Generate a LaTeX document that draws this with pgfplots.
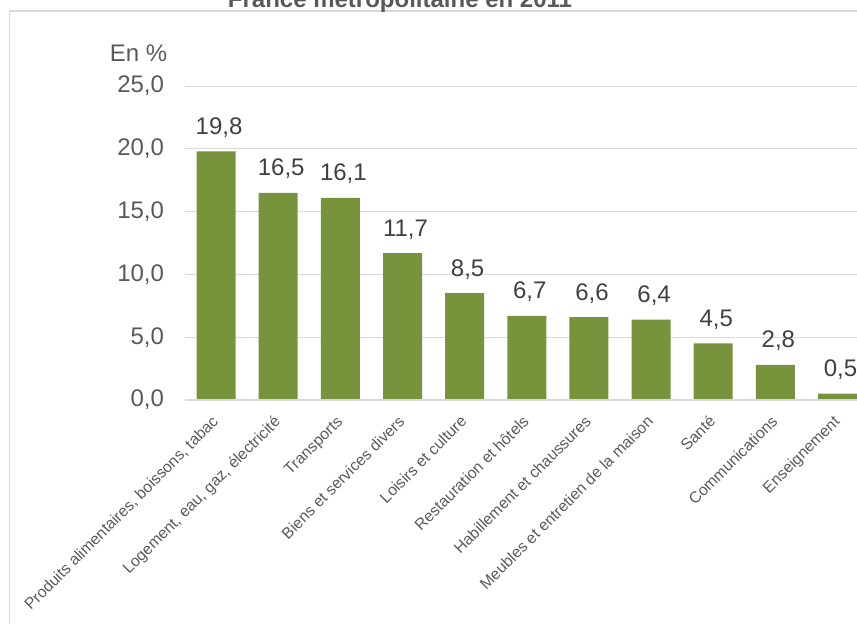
\documentclass[border=0pt]{standalone}
\usepackage{fontspec}
\setmainfont{Liberation Sans}
\usepackage{pgfplots}
\pgfplotsset{compat=1.18}
\definecolor{bargreen}{RGB}{119,147,60}
\definecolor{gridgray}{RGB}{217,217,217}
\definecolor{labgray}{RGB}{89,89,89}
\definecolor{valgray}{RGB}{64,64,64}
% 1 px of the reference = 0.5pt
\begin{document}
\begin{tikzpicture}
\useasboundingbox (0,0) rectangle (428.5pt,311.5pt);
\clip (0,0) rectangle (428.5pt,311.5pt);
\draw[gridgray, line width=0.75pt] (4.75pt,-5pt) -- (4.75pt,306pt) -- (440pt,306pt);
\node[anchor=base, inner sep=0pt, text=labgray, font=\bfseries\fontsize{12}{14}\selectfont]
  at (200pt,307.75pt) {France métropolitaine en 2011};
\node[anchor=east, inner sep=0pt, text=labgray, font=\fontsize{12}{14}\selectfont]
  at (83.85pt,284.85pt) {En \%};
\begin{axis}[
  at={(92.5pt,111.5pt)}, anchor=south west,
  scale only axis, width=341.8pt, height=157pt,
  xmin=-0.5, xmax=10.5, ymin=0, ymax=25,
  ybar, bar width=19.5pt,
  axis line style={draw=none},
  major tick length=0pt,
  ymajorgrids, grid style={gridgray, line width=0.5pt},
  ytick={0,5,10,15,20,25},
  xtick={0,...,10},
  xticklabels={
    {Produits alimentaires, boissons, tabac},
    {Logement, eau, gaz, électricité},
    {Transports},
    {Biens et services divers},
    {Loisirs et culture},
    {Restauration et hôtels},
    {Habillement et chaussures},
    {Meubles et entretien de la maison},
    {Santé},
    {Communications},
    {Enseignement}},
  xticklabel style={xshift=-0.3pt, yshift=-9.25pt, rotate=45, anchor=east,
    inner sep=0pt, text height=0.75em, text depth=0.2em,
    text=labgray, font=\fontsize{7.9}{9}\selectfont},
  yticklabel style={anchor=east, inner sep=0pt, xshift=-10.3pt,
    text=labgray, font=\fontsize{12}{14}\selectfont},
  nodes near coords={\pgfmathprintnumber{\pgfplotspointmeta}},
  every node near coord/.append style={anchor=base, inner sep=0pt,
    xshift=1.5pt, yshift=8.5pt,
    text=valgray, font=\fontsize{12}{14}\selectfont},
  /pgf/number format/fixed,
  /pgf/number format/fixed zerofill,
  /pgf/number format/precision=1,
  /pgf/number format/use comma,
  /pgf/number format/assume math mode=true,
]
\addplot[fill=bargreen, draw=none] coordinates {
  (0,19.8) (1,16.5) (2,16.1) (3,11.7) (4,8.5) (5,6.7)
  (6,6.6) (7,6.4) (8,4.5) (9,2.8) (10,0.5)};
\draw[gridgray, line width=0.75pt] (axis cs:-0.5,0) -- (axis cs:10.5,0);
\end{axis}
\end{tikzpicture}
\end{document}
